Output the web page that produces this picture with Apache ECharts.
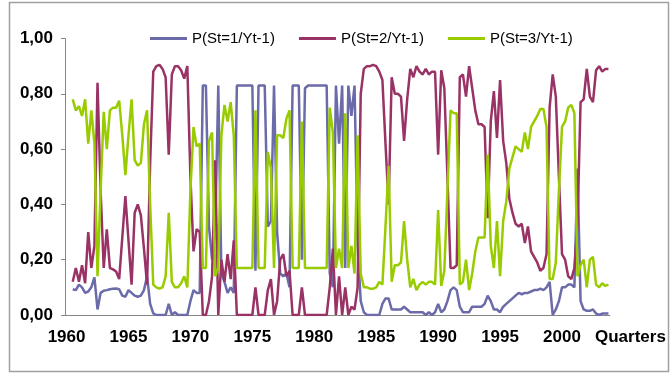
<!DOCTYPE html>
<html>
<head>
<meta charset="utf-8">
<script src="https://cdn.jsdelivr.net/npm/echarts@6/dist/echarts.min.js"></script>
<style>
html,body{margin:0;padding:0;background:#fff;}
#chart{width:670px;height:379px;}
</style>
</head>
<body>
<div id="chart"></div>
<script>
// Quarterly categories 1960Q1 .. 2003Q4
const years = [];
for (let y = 1960; y <= 2003; y++) years.push(y);
const categories = [];
years.forEach(y => { for (let q = 1; q <= 4; q++) categories.push(y + 'Q' + q); });
const firstQuarter = '1960Q3';
const seriesNames = ['P(St=1/Yt-1)', 'P(St=2/Yt-1)', 'P(St=3/Yt-1)'];
const yTicks = [0, 0.2, 0.4, 0.6, 0.8, 1.0];
const xAxisName = 'Quarters';

const blue = [
.093,.09,.11,.10,.08,.085,.10,.136,.02,.08,
.088,.09,.093,.095,.096,.093,.07,.066,.09,.08,
.07,.066,.07,.09,.14,.04,.006,0,0,0,
0,.04,0,.01,0,0,0,0,.05,.09,
.08,.08,.83,.83,.32,.20,.30,.83,.15,.12,
.08,.10,.08,.83,.83,.83,.83,.83,.83,.16,
.83,.83,.83,.32,.34,.83,.30,.15,.14,.15,
.10,.83,.83,.83,.20,.82,.83,.83,.83,.83,
.83,.83,.83,.15,.10,.83,.62,.83,.17,.83,
.72,.83,.25,.05,.01,0,0,0,0,0,
.04,.06,.06,.02,.02,.02,.02,.03,.02,.01,
.01,.01,.01,.01,0,.01,0,.01,.04,.01,
.02,.05,.09,.10,.09,.03,.01,.01,.01,.03,
.03,.03,.03,.04,.07,.05,.02,.02,.01,.03,
.04,.05,.06,.07,.08,.075,.08,.08,.085,.09,
.09,.095,.09,.10,.12,0,.02,.05,.10,.10,
.11,.11,.10,.53,.05,.02,.015,.015,.02,.005,
0,.005,.005,.005
];
const magenta = [
.12,.17,.12,.18,.115,.30,.17,.25,.84,.45,
.17,.31,.17,.165,.157,.13,.28,.43,.27,.11,
.37,.40,.36,.24,.11,.55,.88,.90,.905,.89,
.86,.58,.87,.90,.90,.885,.855,.90,.50,.23,
.31,.30,0,0,.05,.14,.56,0,.20,.12,
.22,.13,.27,0,0,0,0,0,0,.10,
0,0,0,.09,.13,0,.05,.20,.22,.14,
.16,0,0,0,.10,0,0,0,0,0,
0,0,0,.10,.24,0,.14,0,.10,0,
.03,.02,.10,.80,.89,.90,.90,.905,.90,.88,
.85,.62,.40,.86,.80,.80,.79,.63,.78,.89,
.86,.90,.88,.87,.89,.87,.88,.88,.58,.885,
.82,.50,.17,.17,.18,.86,.87,.79,.90,.82,
.74,.69,.69,.68,.35,.70,.81,.64,.85,.63,
.55,.42,.37,.33,.32,.33,.26,.32,.23,.21,
.19,.16,.17,.22,.75,.87,.79,.50,.22,.20,
.14,.13,.17,.33,.77,.78,.89,.79,.77,.885,
.90,.88,.89,.89
];
const green = [
.78,.74,.755,.72,.78,.62,.74,.62,.14,.45,
.735,.60,.74,.75,.75,.775,.65,.506,.65,.78,
.56,.54,.55,.69,.74,.40,.11,.10,.095,.10,
.14,.37,.12,.10,.10,.115,.14,.10,.45,.68,
.61,.62,.17,.17,.63,.66,.14,.17,.65,.76,
.70,.77,.65,.17,.17,.17,.17,.17,.17,.74,
.17,.17,.17,.59,.53,.17,.65,.65,.64,.71,
.74,.17,.17,.17,.70,.17,.17,.17,.17,.17,
.17,.17,.17,.75,.66,.17,.24,.17,.73,.17,
.25,.15,.65,.15,.10,.10,.095,.095,.10,.12,
.11,.32,.54,.12,.18,.18,.19,.34,.20,.10,
.13,.09,.11,.12,.11,.12,.12,.11,.38,.105,
.16,.45,.74,.73,.73,.11,.12,.20,.09,.15,
.23,.28,.28,.28,.58,.25,.17,.34,.14,.34,
.41,.53,.57,.61,.60,.59,.66,.60,.68,.70,
.72,.745,.745,.68,.13,.13,.19,.45,.68,.70,
.75,.76,.73,.14,.18,.20,.10,.20,.21,.11,
.10,.115,.105,.11
];

const colors = ['#6B6BAA', '#993366', '#99CC00'];
const startIdx = categories.indexOf(firstQuarter);
function toData(arr) { return arr.map((v, j) => [categories[startIdx + j], v]); }

const FONT = '"Liberation Sans", Arial, sans-serif';
const showTick = (idx) => idx % 20 === 0;

const chart = echarts.init(document.getElementById('chart'), null, {renderer: 'canvas'});
chart.setOption({
  animation: false,
  color: colors,
  grid: {left: 65, right: 60, top: 38.5, bottom: 64, containLabel: false},
  legend: {
    top: 26, left: 145, itemWidth: 37, itemHeight: 3, itemGap: 24, icon: 'rect',
    textStyle: {fontFamily: FONT, fontSize: 15, color: '#000'},
    data: seriesNames
  },
  graphic: [{
    type: 'rect', silent: true, z: -1,
    shape: {x: 9.5, y: 2.5, width: 659, height: 369},
    style: {fill: 'none', stroke: '#a0a0a0', lineWidth: 1.5}
  }],
  xAxis: {
    type: 'category', data: categories, boundaryGap: true,
    name: xAxisName, nameLocation: 'end', nameGap: -15,
    nameTextStyle: {fontFamily: FONT, fontSize: 17, fontWeight: 'bold', color: '#000', verticalAlign: 'top', padding: [14, 0, 0, 0]},
    axisLine: {lineStyle: {color: '#868686', width: 1}},
    axisTick: {interval: showTick, length: 5, lineStyle: {color: '#868686'}},
    axisLabel: {interval: showTick, margin: 14, fontFamily: FONT, fontSize: 17, fontWeight: 'bold', color: '#000',
      formatter: v => v.slice(0, 4)},
    splitLine: {show: false}
  },
  yAxis: {
    type: 'value', min: 0, max: 1, interval: 0.2,
    axisLine: {show: true, lineStyle: {color: '#868686', width: 1}},
    axisTick: {show: true, length: 4, lineStyle: {color: '#868686'}},
    axisLabel: {margin: 12, fontFamily: FONT, fontSize: 17, fontWeight: 'bold', color: '#000',
      formatter: v => v.toFixed(2).replace('.', ',')},
    splitLine: {show: false}
  },
  series: [blue, magenta, green].map((arr, k) => ({
    name: seriesNames[k], type: 'line', data: toData(arr),
    showSymbol: false, symbol: 'none', smooth: false,
    lineStyle: {width: 2.5, color: colors[k]}
  }))
});
</script>
</body>
</html>
